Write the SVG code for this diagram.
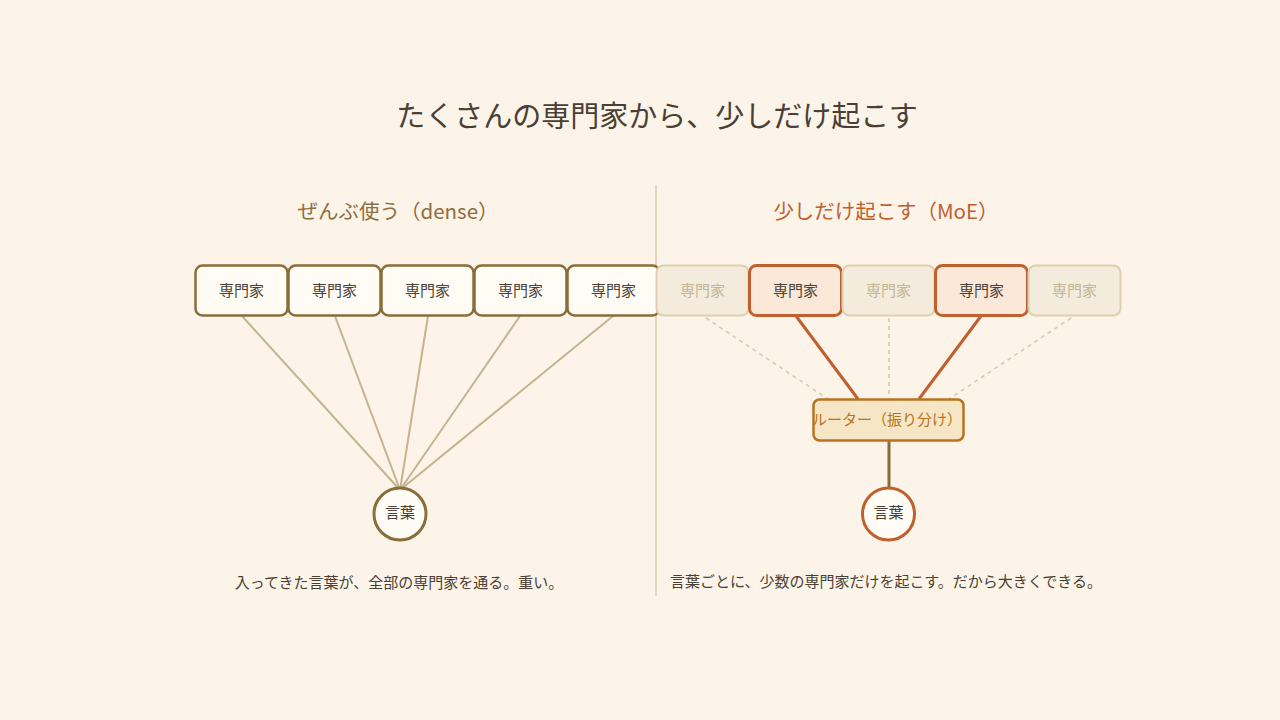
<svg xmlns="http://www.w3.org/2000/svg" width="1280" height="720" viewBox="0 0 1280 720">
<style>
text{font-family:"Noto Sans CJK JP","Noto Sans",sans-serif;text-anchor:middle;dominant-baseline:central}
.title{font-size:29px;fill:#4a3f35}
.sub{font-size:20.5px}
.cap{font-size:15px;fill:#4a3f35}
.box{fill:#fffcf5;stroke:#8b6d3a;stroke-width:2.5}
.off{fill:#f3ecdc;stroke:#ddd0b0;stroke-width:2}
.on{fill:#fbe8d8;stroke:#c0602f;stroke-width:3}
.lbl{font-size:15px;fill:#4a3f35}
.lbloff{font-size:15px;fill:#c3b596}
.dense{stroke:#c4b48f;stroke-width:2;fill:none}
.dash{stroke:#d8cbaa;stroke-width:1.6;stroke-dasharray:4 4;fill:none}
.act{stroke:#c0602f;stroke-width:3;fill:none}
</style>
<rect width="1280" height="720" fill="#fcf4e8"/>
<text class="title" x="657" y="114">たくさんの専門家から、少しだけ起こす</text>
<line x1="656" y1="185" x2="656" y2="596" stroke="#e2d6bf" stroke-width="2"/>
<text class="sub" x="398" y="210" fill="#8f6e3e">ぜんぶ使う（dense）</text>
<text class="sub" x="886" y="210" fill="#c0602f">少しだけ起こす（MoE）</text>
<g id="connectors">
<line class="dense" x1="242" y1="316" x2="400" y2="490"/>
<line class="dense" x1="335" y1="316" x2="400" y2="490"/>
<line class="dense" x1="428" y1="316" x2="400" y2="490"/>
<line class="dense" x1="520" y1="316" x2="400" y2="490"/>
<line class="dense" x1="613" y1="316" x2="400" y2="490"/>
<line class="dash" x1="706" y1="318" x2="828" y2="399"/>
<line class="dash" x1="889" y1="318" x2="889" y2="399"/>
<line class="dash" x1="1071" y1="318" x2="949" y2="399"/>
<line class="act" x1="796" y1="316" x2="858" y2="399"/>
<line class="act" x1="981" y1="316" x2="919" y2="399"/>
<line x1="889" y1="440" x2="889" y2="488" stroke="#8b6d3a" stroke-width="3"/>
</g>
<g id="l1"><rect class="box" x="195.5" y="265.5" width="92" height="50" rx="7"/><text class="lbl" x="241.5" y="289">専門家</text></g>
<g id="l2"><rect class="box" x="288.5" y="265.5" width="92" height="50" rx="7"/><text class="lbl" x="334.5" y="289">専門家</text></g>
<g id="l3"><rect class="box" x="381.5" y="265.5" width="92" height="50" rx="7"/><text class="lbl" x="427.5" y="289">専門家</text></g>
<g id="l4"><rect class="box" x="474.5" y="265.5" width="92" height="50" rx="7"/><text class="lbl" x="520.5" y="289">専門家</text></g>
<g id="l5"><rect class="box" x="567.5" y="265.5" width="92" height="50" rx="7"/><text class="lbl" x="613.5" y="289">専門家</text></g>
<g id="r1"><rect class="off" x="656.5" y="265.5" width="92" height="50" rx="7"/><text class="lbloff" x="702.5" y="289">専門家</text></g>
<g id="r2"><rect class="on" x="749.5" y="265.5" width="92" height="50" rx="7"/><text class="lbl" x="795.5" y="289">専門家</text></g>
<g id="r3"><rect class="off" x="842.5" y="265.5" width="92" height="50" rx="7"/><text class="lbloff" x="888.5" y="289">専門家</text></g>
<g id="r4"><rect class="on" x="935.5" y="265.5" width="92" height="50" rx="7"/><text class="lbl" x="981.5" y="289">専門家</text></g>
<g id="r5"><rect class="off" x="1028.5" y="265.5" width="92" height="50" rx="7"/><text class="lbloff" x="1074.5" y="289">専門家</text></g>
<g id="router"><rect x="813.5" y="399.5" width="150" height="41" rx="6" fill="#f6e6c6" stroke="#b87320" stroke-width="2.5"/><text x="887" y="418" font-size="15" fill="#b87320">ルーター（振り分け）</text></g>
<g id="wordL"><circle cx="400" cy="514" r="26" fill="#fffcf5" stroke="#8b6d3a" stroke-width="3"/><text class="lbl" x="400" y="511">言葉</text></g>
<g id="wordR"><circle cx="888.5" cy="514" r="26" fill="#fffcf5" stroke="#c0602f" stroke-width="3"/><text class="lbl" x="888.5" y="511">言葉</text></g>
<text class="cap" x="399" y="581">入ってきた言葉が、全部の専門家を通る。重い。</text>
<text class="cap" x="886" y="580">言葉ごとに、少数の専門家だけを起こす。だから大きくできる。</text>
</svg>
